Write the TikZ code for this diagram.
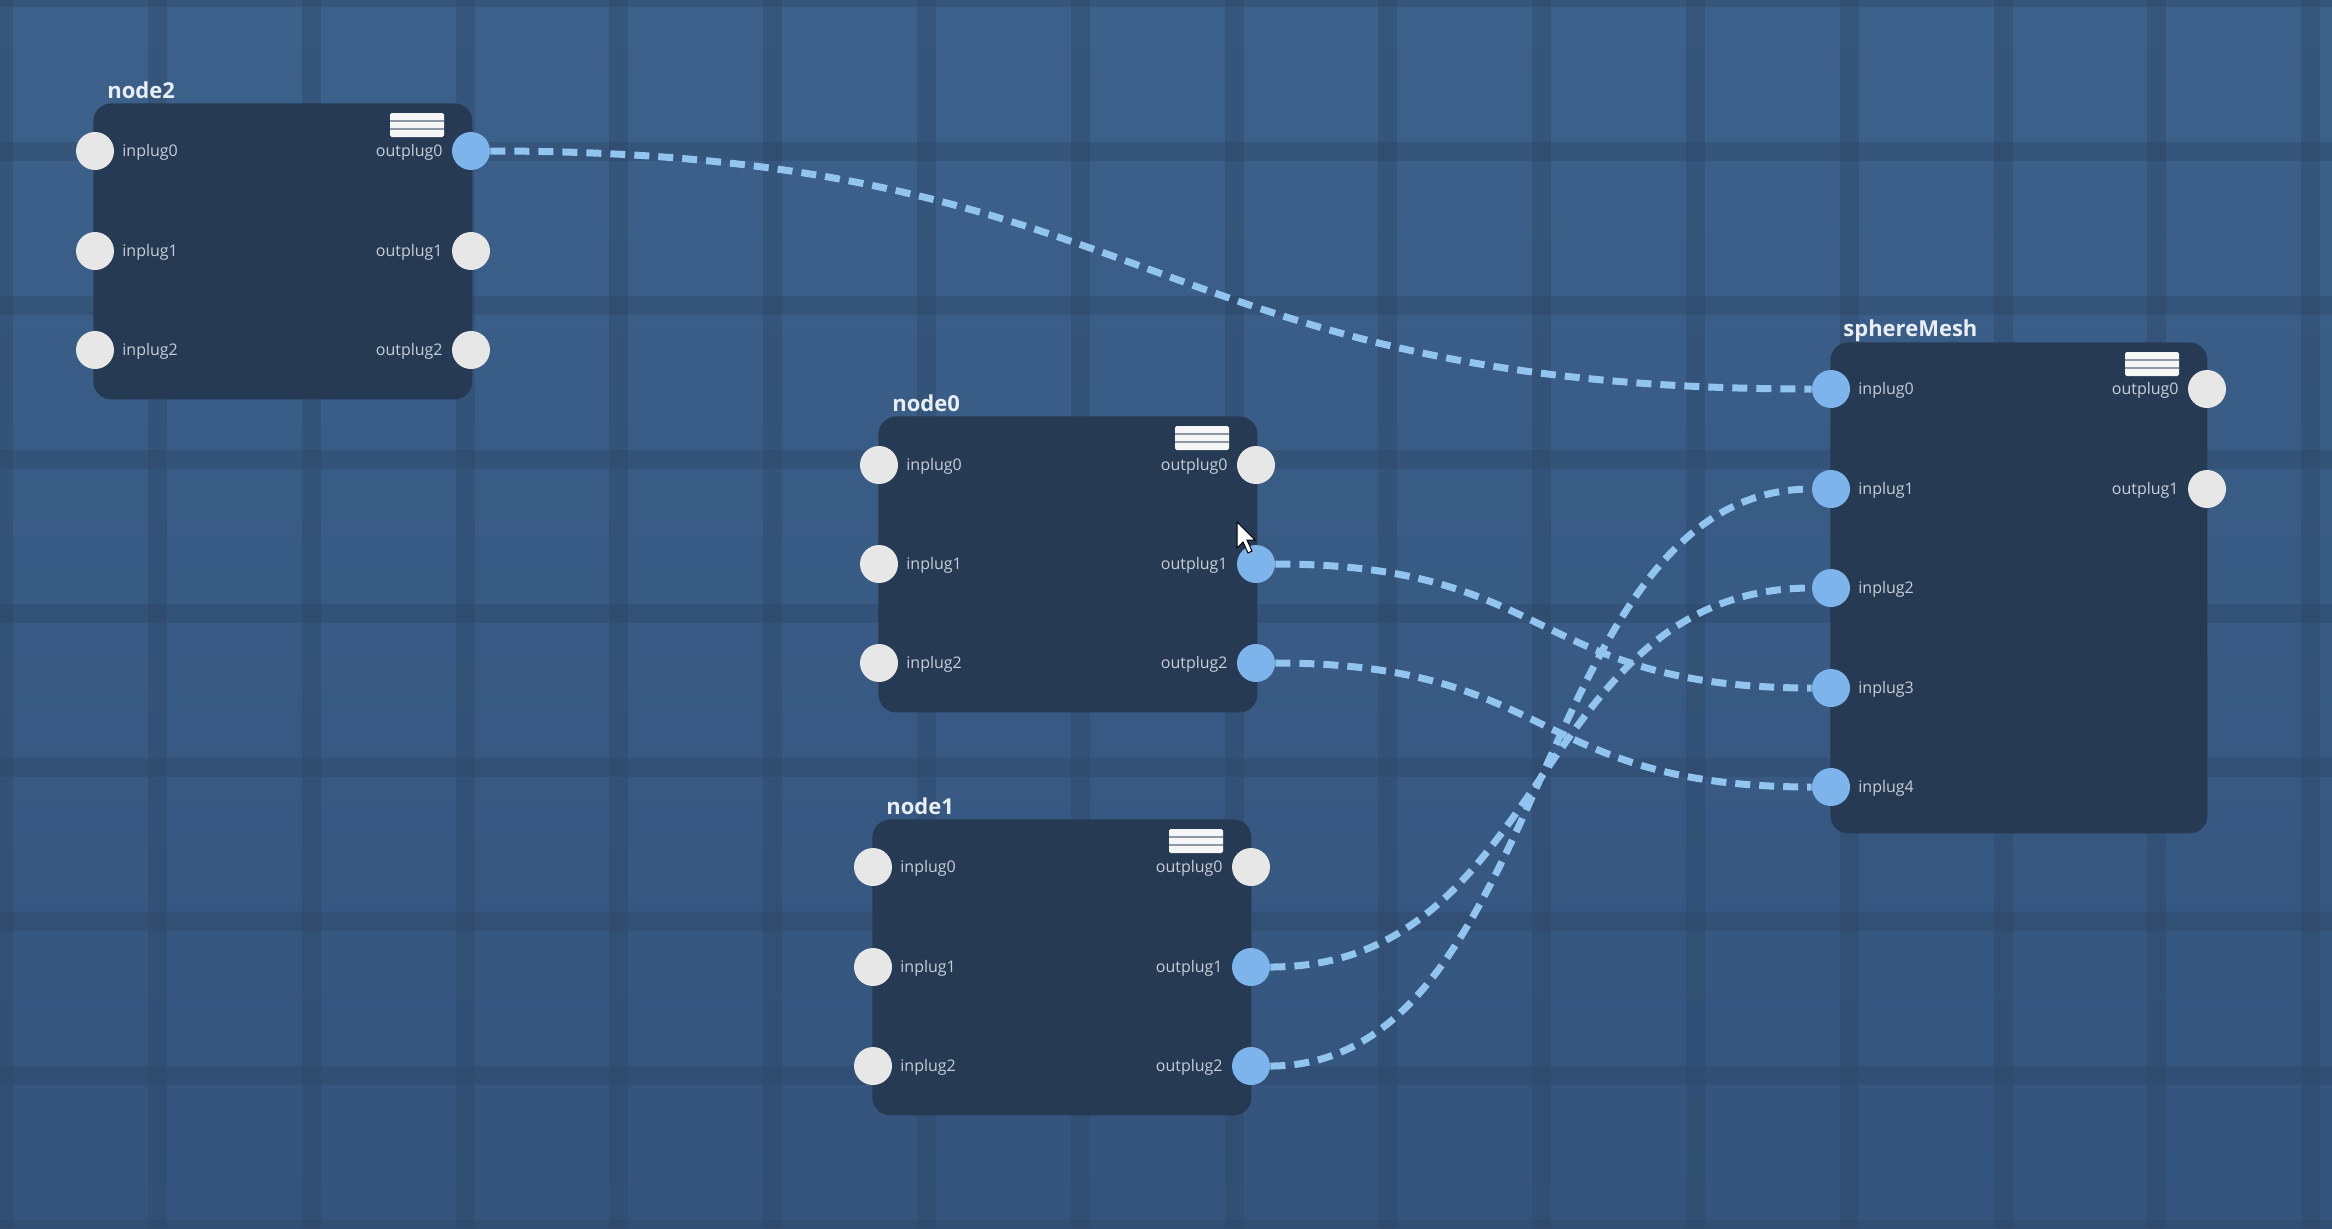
\documentclass[tikz,border=0pt]{standalone}
\usepackage{fontspec}
\setmainfont{Open Sans}
\definecolor{bgtop}{HTML}{3C618B}
\definecolor{bgbot}{HTML}{34547D}
\definecolor{gridc}{HTML}{2D4563}
\definecolor{boxc}{HTML}{263A54}
\definecolor{plugc}{HTML}{E7E7E7}
\definecolor{plugblue}{HTML}{7DB4EB}
\definecolor{wirec}{HTML}{92C4F0}
\definecolor{labc}{HTML}{C9CED6}
\definecolor{titlec}{HTML}{E9EEF4}
\definecolor{barline}{HTML}{8E98A6}
\begin{document}
\begin{tikzpicture}[x=0.5pt,y=-0.5pt,
 box/.style={fill=boxc, rounded corners=9pt, minimum width=189.5pt, minimum height=148pt, anchor=north west, inner sep=0pt},
 plug/.style={circle, fill=plugc, minimum size=19pt, inner sep=0pt},
 plugon/.style={plug, fill=plugblue},
 inlab/.style={anchor=base west, text=labc, font=\fontsize{8}{9}\selectfont, inner sep=0pt},
 outlab/.style={anchor=base east, text=labc, font=\fontsize{8}{9}\selectfont, inner sep=0pt},
 title/.style={anchor=base west, text=titlec, font=\fontsize{11}{13}\selectfont\bfseries, inner sep=0pt},
 wire/.style={draw=wirec, line width=3.5pt, dash pattern=on 7.5pt off 4.5pt},
 gridline/.style={draw=gridc, line width=9.5pt, opacity=0.38},
 menu/.pic={\fill[white!93!gray, rounded corners=0.8pt] (0,0) rectangle (54,24);
   \draw[barline, line width=1pt] (0,8) -- (54,8) (0,16) -- (54,16);}
]
\useasboundingbox (0,0) rectangle (2332,1228);
% background
\fill[top color=bgtop, bottom color=bgbot] (0,0) rectangle (2332,1228);
\foreach \k in {0,...,15} \draw[gridline] ({3.7+153.8*\k},0) -- ({3.7+153.8*\k},1228);
\foreach \k in {0,...,8} \draw[gridline] (0,{-2.5+154*\k}) -- (2332,{-2.5+154*\k});

% ---------- node2 ----------
\node[box] (n2) at (93,103) {};
\node[title] (n2t) at (107,98) {node2};
\pic at (390,113) {menu};
\node[plug] (n2i0) at (95,151) {};
\node[plug] (n2i1) at (95,251) {};
\node[plug] (n2i2) at (95,350) {};
\node[plugon] (n2o0) at (471,151) {};
\node[plug] (n2o1) at (471,251) {};
\node[plug] (n2o2) at (471,350) {};
\node[inlab] at (122,156) {inplug0};
\node[inlab] at (122,256) {inplug1};
\node[inlab] at (122,355) {inplug2};
\node[outlab] at (443,156) {outplug0};
\node[outlab] at (443,256) {outplug1};
\node[outlab] at (443,355) {outplug2};

% ---------- node0 ----------
\node[box] (n0) at (878,416) {};
\node[title] (n0t) at (892,411) {node0};
\pic at (1175,426) {menu};
\node[plug] (n0i0) at (879,465) {};
\node[plug] (n0i1) at (879,564) {};
\node[plug] (n0i2) at (879,663) {};
\node[plug] (n0o0) at (1256,465) {};
\node[plugon] (n0o1) at (1256,564) {};
\node[plugon] (n0o2) at (1256,663) {};
\node[inlab] at (906,470) {inplug0};
\node[inlab] at (906,569) {inplug1};
\node[inlab] at (906,668) {inplug2};
\node[outlab] at (1228,470) {outplug0};
\node[outlab] at (1228,569) {outplug1};
\node[outlab] at (1228,668) {outplug2};

% ---------- node1 ----------
\node[box] (n1) at (872,819) {};
\node[title] (n1t) at (886,814) {node1};
\pic at (1169,829) {menu};
\node[plug] (n1i0) at (873,867) {};
\node[plug] (n1i1) at (873,967) {};
\node[plug] (n1i2) at (873,1066) {};
\node[plug] (n1o0) at (1251,867) {};
\node[plugon] (n1o1) at (1251,967) {};
\node[plugon] (n1o2) at (1251,1066) {};
\node[inlab] at (900,872) {inplug0};
\node[inlab] at (900,972) {inplug1};
\node[inlab] at (900,1071) {inplug2};
\node[outlab] at (1223,872) {outplug0};
\node[outlab] at (1223,972) {outplug1};
\node[outlab] at (1223,1071) {outplug2};

% ---------- sphereMesh ----------
\node[box, minimum width=188.5pt, minimum height=245.5pt] (sm) at (1830,342) {};
\node[title] (smt) at (1843,336) {sphereMesh};
\pic at (2125,352) {menu};
\node[plugon] (smi0) at (1831,389) {};
\node[plugon] (smi1) at (1831,489) {};
\node[plugon] (smi2) at (1831,588) {};
\node[plugon] (smi3) at (1831,688) {};
\node[plugon] (smi4) at (1831,787) {};
\node[plug] (smo0) at (2207,389) {};
\node[plug] (smo1) at (2207,489) {};
\node[inlab] at (1858,394) {inplug0};
\node[inlab] at (1858,494) {inplug1};
\node[inlab] at (1858,593) {inplug2};
\node[inlab] at (1858,693) {inplug3};
\node[inlab] at (1858,792) {inplug4};
\node[outlab] at (2179,394) {outplug0};
\node[outlab] at (2179,494) {outplug1};

% ---------- connectors ----------
\draw[wire] (n2o0.east) .. controls +(670,0) and +(-670,0) .. (smi0.west);
\draw[wire] (n0o1.east) .. controls +(280,0) and +(-280,0) .. (smi3.west);
\draw[wire] (n0o2.east) .. controls +(280,0) and +(-280,0) .. (smi4.west);
\draw[wire] (n1o1.east) .. controls +(280,0) and +(-280,0) .. (smi2.west);
\draw[wire] (n1o2.east) .. controls +(280,0) and +(-280,0) .. (smi1.west);

% cursor
\filldraw[fill=white, draw=black, line width=0.5pt]
  (1237,522) -- (1237,548) -- (1243,542) -- (1248,553) -- (1252,551) -- (1247,540) -- (1255,540) -- cycle;
\end{tikzpicture}
\end{document}
